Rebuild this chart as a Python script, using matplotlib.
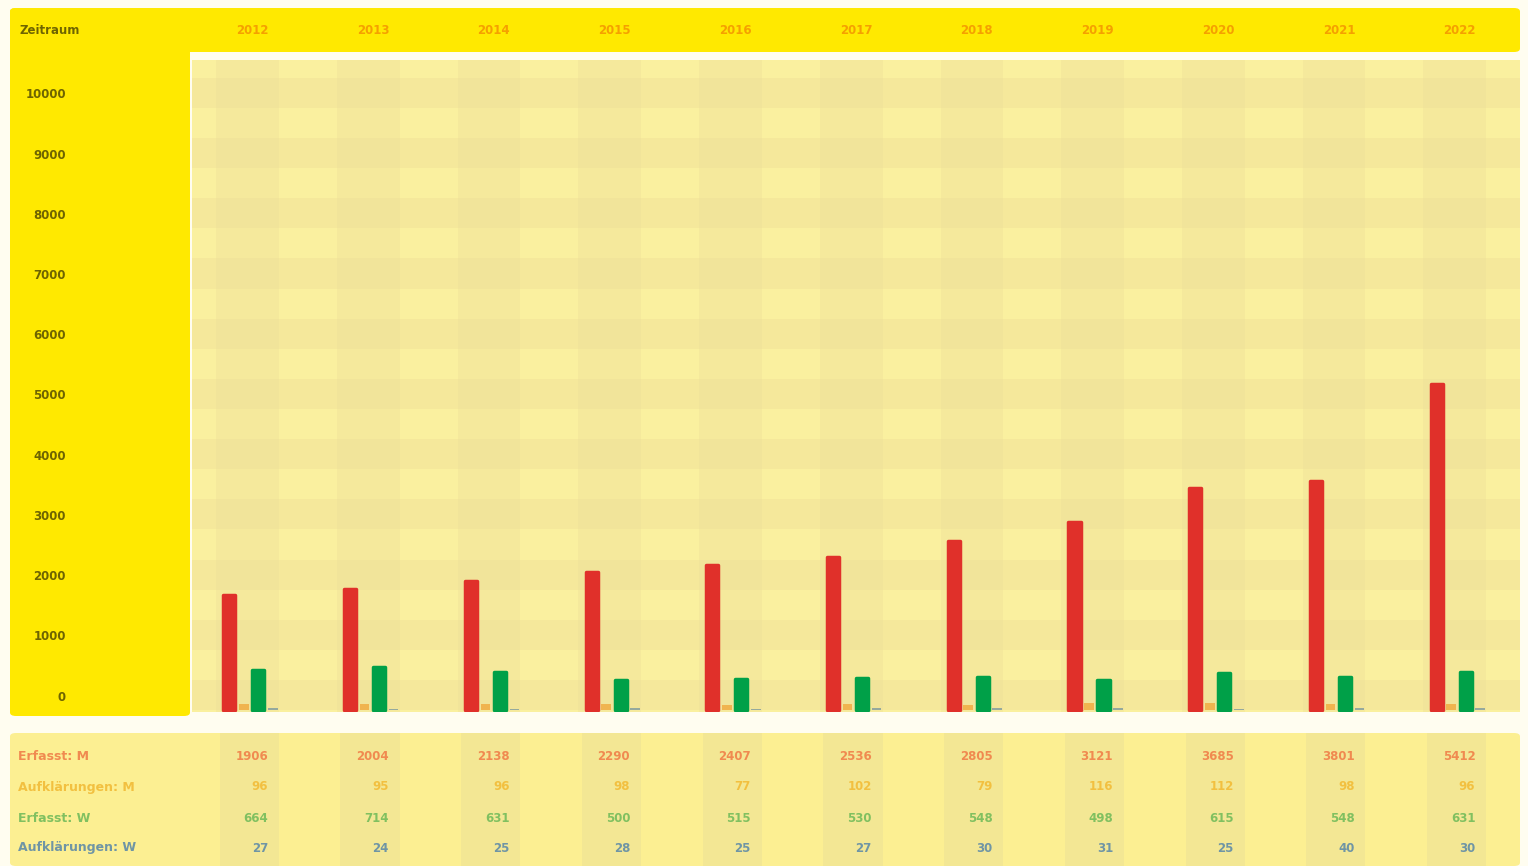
import matplotlib.pyplot as plt
import matplotlib.patches as mpatches
import numpy as np

# data
years = ['2012', '2013', '2014', '2015', '2016', '2017', '2018', '2019', '2020', '2021', '2022']
erfasst_m = [1906, 2004, 2138, 2290, 2407, 2536, 2805, 3121, 3685, 3801, 5412]
aufkl_m = [96, 95, 96, 98, 77, 102, 79, 116, 112, 98, 96]
erfasst_w = [664, 714, 631, 500, 515, 530, 548, 498, 615, 548, 631]
aufkl_w = [27, 24, 25, 28, 25, 27, 30, 31, 25, 40, 30]
row_labels = ['Erfasst: M', 'Aufklärungen: M', 'Erfasst: W', 'Aufklärungen: W']
y_ticks = [0, 1000, 2000, 3000, 4000, 5000, 6000, 7000, 8000, 9000, 10000]

W, H = 1528, 866
fig = plt.figure(figsize=(W / 100, H / 100), dpi=100)
fig.patch.set_facecolor('#FFFDF0')


def box(x0, y0, x1, y1):
    # pixel box (top-left origin) -> figure fraction rect
    return [x0 / W, 1 - y1 / H, (x1 - x0) / W, (y1 - y0) / H]


def panel(x0, y0, x1, y1, color):
    r = box(x0, y0, x1, y1)
    p = mpatches.FancyBboxPatch((r[0], r[1]), r[2], r[3], boxstyle='round,pad=0,rounding_size=0.004',
                                transform=fig.transFigure, facecolor=color, edgecolor='none', zorder=-5)
    fig.patches.append(p)


# background panels
panel(10, 8, 1520, 52, '#FFE900')
panel(10, 8, 190, 716, '#FFE900')
panel(10, 733, 1520, 866, '#FCEF92')

x = np.arange(len(years))
ymin, ymax = -33, 10797

# main plot area
ax = fig.add_axes(box(192, 60, 1520, 712))
ax.set_facecolor('#FAF09F')
ax.set_xlim(-0.5, len(years) - 0.5)
ax.set_ylim(ymin, ymax)
for i, v in enumerate(range(0, 11000, 500)):
    if i % 2 == 0:
        ax.axhspan(v, v + 500, color='#F5E89B', lw=0, zorder=0)
for xi in x:
    ax.axvspan(xi - 0.3, xi + 0.22, color='#EADC98', alpha=0.3, lw=0, zorder=0)

w = 0.1
kw = dict(linewidth=2.5, joinstyle='round', zorder=3)
ax.bar(x - 0.19, erfasst_m, w, color='#E0302A', edgecolor='#E0302A', **kw)
ax.bar(x - 0.07, aufkl_m, 0.08, color='#F0A030', alpha=0.7, zorder=2)
ax.bar(x + 0.05, erfasst_w, w, color='#00A048', edgecolor='#00A048', **kw)
ax.bar(x + 0.17, aufkl_w, 0.08, color='#3A70A0', alpha=0.5, zorder=2)
ax.set_xticks([])
ax.set_yticks([])
for s in ax.spines.values():
    s.set_visible(False)

# y labels in the left panel
axl = fig.add_axes(box(10, 60, 190, 712))
axl.set_ylim(ymin, ymax)
axl.set_xlim(0, 180)
axl.axis('off')
for v in y_ticks:
    axl.text(56, v + 216, str(v), ha='right', va='center', fontsize=8.5,
             fontweight='bold', color='#6E6400')

# header
fig.text(20 / W, 1 - 31 / H, 'Zeitraum', ha='left', va='center', fontsize=8.5,
         fontweight='bold', color='#6E6400')
for xi, yr in zip(x, years):
    fx = (192 + (xi + 0.5) * (1328 / len(years))) / W
    fig.text(fx, 1 - 31 / H, yr, ha='center', va='center', fontsize=8.5,
             fontweight='bold', color='#F5A000')

# table below
axt = fig.add_axes(box(192, 733, 1520, 866))
axt.set_xlim(-0.5, len(years) - 0.5)
axt.set_ylim(0, 133)
axt.axis('off')
for xi in x:
    axt.axvspan(xi - 0.27, xi + 0.22, color='#F3E794', lw=0, zorder=0)

rows = [erfasst_m, aufkl_m, erfasst_w, aufkl_w]
colors = ['#F08A50', '#F2C040', '#80C060', '#6F95A5']
row_y = [757, 787, 818, 848]
for lab, vals, c, ry in zip(row_labels, rows, colors, row_y):
    fig.text(18 / W, 1 - ry / H, lab, ha='left', va='center', fontsize=9,
             fontweight='bold', color=c)
    for xi, v in zip(x, vals):
        axt.text(xi + 0.13, 866 - ry, str(v), ha='right', va='center',
                 fontsize=8.5, fontweight='bold', color=c)

fig.savefig('out.png', dpi=100, facecolor=fig.get_facecolor())
